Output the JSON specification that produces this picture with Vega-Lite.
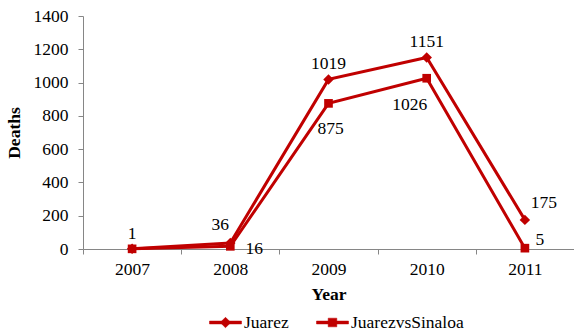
{
  "$schema": "https://vega.github.io/schema/vega-lite/v6.json",
  "autosize": {"type": "none"},
  "padding": {"left": 83, "top": 16, "right": 0, "bottom": 83},
  "width": 491,
  "height": 233,
  "background": "white",
  "config": {
    "view": {"stroke": null},
    "font": "Liberation Serif",
    "text": {"font": "Liberation Serif", "fontSize": 17.5, "color": "black"},
    "axis": {
      "domainColor": "#868686",
      "tickColor": "#868686",
      "grid": false,
      "labelFont": "Liberation Serif",
      "labelFontSize": 17.5,
      "labelColor": "black",
      "titleFont": "Liberation Serif",
      "titleFontSize": 17.5,
      "titleFontWeight": "bold",
      "titleColor": "black"
    }
  },
  "data": {
    "values": [
      {"year": "2007", "series": "Juarez", "deaths": 1},
      {"year": "2008", "series": "Juarez", "deaths": 36},
      {"year": "2009", "series": "Juarez", "deaths": 1019},
      {"year": "2010", "series": "Juarez", "deaths": 1151},
      {"year": "2011", "series": "Juarez", "deaths": 175},
      {"year": "2007", "series": "JuarezvsSinaloa", "deaths": 1},
      {"year": "2008", "series": "JuarezvsSinaloa", "deaths": 16},
      {"year": "2009", "series": "JuarezvsSinaloa", "deaths": 875},
      {"year": "2010", "series": "JuarezvsSinaloa", "deaths": 1026},
      {"year": "2011", "series": "JuarezvsSinaloa", "deaths": 5}
    ]
  },
  "encoding": {
    "x": {
      "field": "year",
      "type": "ordinal",
      "title": "Year",
      "scale": {"paddingInner": 0, "paddingOuter": 0},
      "axis": {
        "labelAngle": 0,
        "tickBand": "extent",
        "tickSize": 5,
        "labelPadding": 6,
        "titlePadding": 8
      }
    },
    "y": {
      "field": "deaths",
      "type": "quantitative",
      "title": "Deaths",
      "scale": {"domain": [0, 1400], "nice": false},
      "axis": {
        "values": [0, 200, 400, 600, 800, 1000, 1200, 1400],
        "format": "d",
        "tickSize": 5,
        "labelPadding": 10,
        "titlePadding": 10
      }
    }
  },
  "layer": [
    {
      "mark": {"type": "line", "strokeWidth": 3},
      "encoding": {
        "color": {
          "field": "series",
          "type": "nominal",
          "title": null,
          "scale": {"domain": ["Juarez", "JuarezvsSinaloa"], "range": ["#C00000", "#C00000"]},
          "legend": {
            "orient": "none",
            "direction": "horizontal",
            "legendX": 126,
            "legendY": 290,
            "symbolSize": 1024,
            "labelOffset": 2,
            "columnPadding": 26,
            "labelFont": "Liberation Serif",
            "labelFontSize": 17.5,
            "labelColor": "black",
            "encode": {
              "symbols": {
                "update": {
                  "shape": [
                    {"test": "datum.value === 'Juarez'", "value": "M-1,-0.09L1,-0.09L1,0.09L-1,0.09Z M0,-0.33L0.33,0L0,0.33L-0.33,0Z"},
                    {"value": "M-1,-0.09L1,-0.09L1,0.09L-1,0.09Z M-0.27,-0.27L0.27,-0.27L0.27,0.27L-0.27,0.27Z"}
                  ],
                  "size": {"value": 1024},
                  "fill": {"value": "#C00000"},
                  "fillOpacity": {"value": 1},
                  "stroke": {"value": "#C00000"},
                  "strokeWidth": {"value": 0.5}
                }
              }
            }
          }
        }
      }
    },
    {
      "transform": [{"filter": "datum.series === 'Juarez'"}],
      "mark": {"type": "point", "shape": "diamond", "size": 110, "filled": true, "opacity": 1, "color": "#C00000"}
    },
    {
      "transform": [{"filter": "datum.series === 'JuarezvsSinaloa'"}],
      "mark": {"type": "point", "shape": "square", "size": 75, "filled": true, "opacity": 1, "color": "#C00000"}
    },
    {
      "transform": [{"filter": "datum.series === 'Juarez' && (datum.year === '2007' || datum.year === '2009' || datum.year === '2010')"}],
      "mark": {"type": "text", "font": "Liberation Serif", "fontSize": 17.5, "dy": -15, "color": "black"},
      "encoding": {"text": {"field": "deaths", "type": "quantitative"}}
    },
    {
      "transform": [{"filter": "datum.series === 'Juarez' && datum.year === '2008'"}],
      "mark": {"type": "text", "font": "Liberation Serif", "fontSize": 17.5, "dx": -10, "dy": -18, "color": "black"},
      "encoding": {"text": {"field": "deaths", "type": "quantitative"}}
    },
    {
      "transform": [{"filter": "datum.series === 'Juarez' && datum.year === '2011'"}],
      "mark": {"type": "text", "font": "Liberation Serif", "fontSize": 17.5, "dx": 19, "dy": -17, "color": "black"},
      "encoding": {"text": {"field": "deaths", "type": "quantitative"}}
    },
    {
      "transform": [{"filter": "datum.series === 'JuarezvsSinaloa' && datum.year === '2009'"}],
      "mark": {"type": "text", "font": "Liberation Serif", "fontSize": 17.5, "dx": 2, "dy": 26, "color": "black"},
      "encoding": {"text": {"field": "deaths", "type": "quantitative"}}
    },
    {
      "transform": [{"filter": "datum.series === 'JuarezvsSinaloa' && datum.year === '2010'"}],
      "mark": {"type": "text", "font": "Liberation Serif", "fontSize": 17.5, "dx": -17, "dy": 27, "color": "black"},
      "encoding": {"text": {"field": "deaths", "type": "quantitative"}}
    },
    {
      "transform": [{"filter": "datum.series === 'JuarezvsSinaloa' && datum.year === '2008'"}],
      "mark": {"type": "text", "font": "Liberation Serif", "fontSize": 17.5, "dx": 24, "dy": 3, "color": "black"},
      "encoding": {"text": {"field": "deaths", "type": "quantitative"}}
    },
    {
      "transform": [{"filter": "datum.series === 'JuarezvsSinaloa' && datum.year === '2011'"}],
      "mark": {"type": "text", "font": "Liberation Serif", "fontSize": 17.5, "dx": 15, "dy": -8, "color": "black"},
      "encoding": {"text": {"field": "deaths", "type": "quantitative"}}
    }
  ]
}
